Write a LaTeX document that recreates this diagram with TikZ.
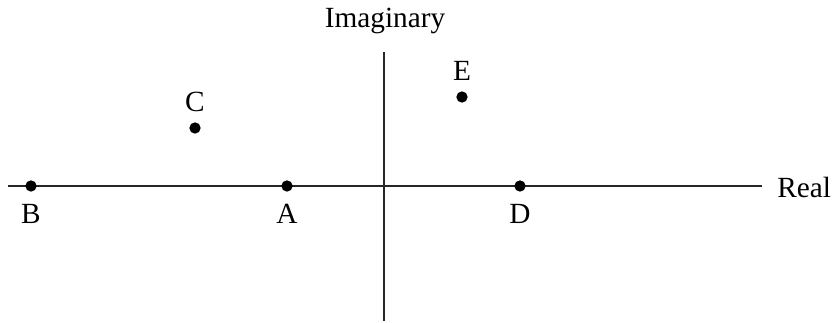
\documentclass[tikz,border=0pt]{standalone}
\usepackage{fontspec}
\setmainfont{Liberation Serif}
\usetikzlibrary{positioning}
\tikzset{
  axisline/.style={line width=2.4pt,black!85},
  ptnode/.style={circle,fill=black,inner sep=0pt,minimum size=3.4mm},
  ptlabel/.style={font=\fontsize{25}{30}\selectfont,inner sep=1pt},
}

\begin{document}
\begin{tikzpicture}[x=0.03cm,y=-0.03cm]
  \useasboundingbox (0,0) rectangle (834,322);
  \coordinate (xl) at (8,186);
  \coordinate (xr) at (762,186);
  \coordinate (yt) at (384,52);
  \coordinate (yb) at (384,321);
  \draw[axisline] (xl) -- (xr);
  \draw[axisline,line width=2pt] (yt) -- (yb);
  \node[ptlabel,anchor=west] (lreal) at (776,187) {Real};
  \node[ptlabel] (limag) at (385,21) {Imaginary};
  \node[ptnode] (pB) at (31,186) {};
  \node[ptnode] (pA) at (287,186) {};
  \node[ptnode] (pD) at (520,186) {};
  \node[ptnode] (pC) at (195,128) {};
  \node[ptnode] (pE) at (462,97) {};
  \node[ptlabel] (lB) at (31,214) {B};
  \node[ptlabel] (lA) at (287,214) {A};
  \node[ptlabel] (lD) at (520,214) {D};
  \node[ptlabel] (lC) at (195,102) {C};
  \node[ptlabel] (lE) at (462,71) {E};
\end{tikzpicture}
\end{document}
